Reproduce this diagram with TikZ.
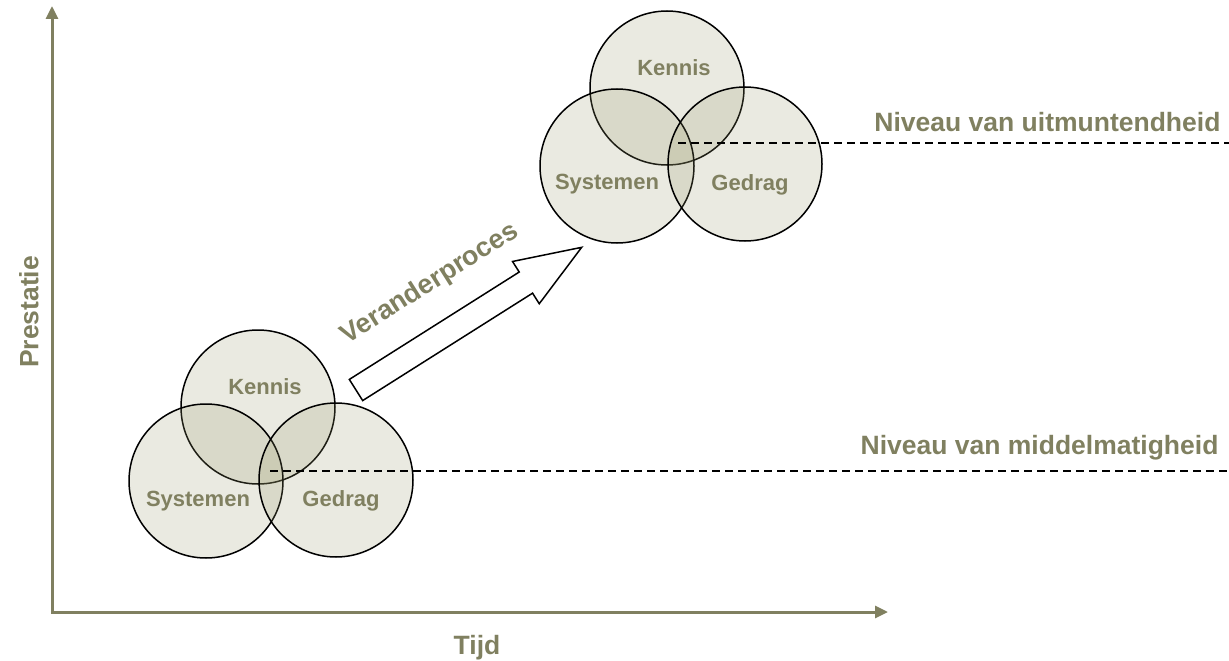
\documentclass[tikz,border=0pt]{standalone}
\usepackage{fontspec}
\setmainfont{Liberation Sans}
\usetikzlibrary{arrows.meta,positioning}
\definecolor{olijf}{RGB}{128,128,96}
\definecolor{vulling}{RGB}{150,150,105}
\tikzset{
cirkel/.style={
  circle,
  draw=black,
  line width=1.5pt,
  fill=vulling,
  fill opacity=0.2,
  minimum size=154pt,
  inner sep=0pt
  },
cirkeltxt/.style={text=olijf,font=\fontsize{22}{26}\selectfont\bfseries},
kop/.style={text=olijf,font=\fontsize{26.5}{30}\selectfont\bfseries},
niveau/.style={dash pattern=on 8pt off 5pt,line width=1.3pt}
}

\begin{document}
\begin{tikzpicture}[x=1pt,y=-1pt]
\useasboundingbox (0,0) rectangle (1229,661);

\coordinate (ytop) at (52,6);
\coordinate (oorsprong) at (52,612);
\coordinate (xeind) at (888,612);
\draw[olijf,line width=3pt,{Triangle[length=13pt,width=12pt]}-{Triangle[length=13pt,width=12pt]}]
  (ytop) -- (oorsprong) -- (xeind);
\node[kop,rotate=90] (prestatie) at (29,312) {Prestatie};
\node[kop,anchor=base] (tijd) at (477,654) {Tijd};

% laag niveau
\node[cirkel] (k1) at (258,407) {};
\node[cirkel] (s1) at (206,481) {};
\node[cirkel] (g1) at (336,480) {};
\node[cirkeltxt] (k1txt) at ([xshift=7pt,yshift=20pt]k1.center) {Kennis};
\node[cirkeltxt] (s1txt) at ([xshift=-8pt,yshift=-20pt]s1.center) {Systemen};
\node[cirkeltxt] (g1txt) at ([xshift=5pt,yshift=-21pt]g1.center) {Gedrag};

% hoog niveau
\node[cirkel] (k2) at (667,88) {};
\node[cirkel] (s2) at (617,166) {};
\node[cirkel] (g2) at (745,164) {};
\node[cirkeltxt] (k2txt) at ([xshift=7pt,yshift=20pt]k2.center) {Kennis};
\node[cirkeltxt] (s2txt) at ([xshift=-10pt,yshift=-18pt]s2.center) {Systemen};
\node[cirkeltxt] (g2txt) at ([xshift=5pt,yshift=-21pt]g2.center) {Gedrag};

\coordinate (laag1) at (270,471);
\coordinate (laag2) at (1229,471);
\coordinate (hoog1) at (678,143);
\coordinate (hoog2) at (1229,143);
\draw[niveau] (laag1) -- (laag2);
\draw[niveau] (hoog1) -- (hoog2);
\node[kop,anchor=base east] (middel) at (1222,454) {Niveau van middelmatigheid};
\node[kop,anchor=base east] (uitmunt) at (1224,131) {Niveau van uitmuntendheid};

% veranderproces
\coordinate (staart) at (356,390);
\begin{scope}[shift={(staart)},rotate=32.3]
\draw[line width=1.5pt,fill=white,line join=miter]
  (0,-12.5) -- (201,-12.5) -- (201,-25) -- (267,0) -- (201,25) -- (201,12.5) -- (0,12.5) -- cycle;
\end{scope}
\node[kop,font=\fontsize{27}{30}\selectfont\bfseries,rotate=32.3] (verander) at (430,284) {Veranderproces};

\end{tikzpicture}
\end{document}
